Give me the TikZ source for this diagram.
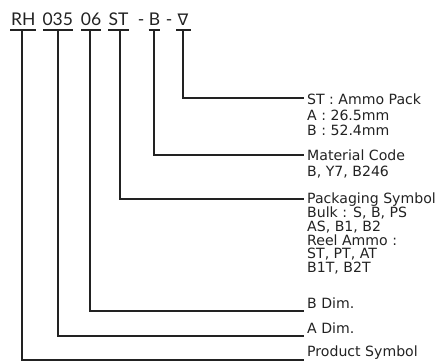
\documentclass[tikz,border=0pt]{standalone}
\usepackage{fontspec}
\setmainfont{DejaVu Sans}
\newfontfamily\headfont{Lato}
\newfontfamily\symfont{DejaVu Sans}
\definecolor{ink}{HTML}{222222}
\begin{document}
\begin{tikzpicture}[x=1pt,y=-1pt,
  head/.style={anchor=base,inner sep=0pt,text=ink,font=\headfont\fontsize{17.5}{20}\selectfont},
  lab/.style={anchor=base west,inner sep=0pt,text=ink,font=\fontsize{14.1}{15}\selectfont},
  conn/.style={draw=ink,line width=1.1pt},
  uline/.style={draw=ink,line width=1.1pt}]
\useasboundingbox (0,0) rectangle (437,363);
% header tokens
\node[head] (t1) at (23.2,26) {RH};
\node[head] (t2) at (57.8,26) {035};
\node[head] (t3) at (91,26) {06};
\node[head] (t4) at (118.5,26) {ST};
\node[head] (d1) at (141,26) {-};
\node[head] (t5) at (154.5,26) {B};
\node[head] (d2) at (169,26) {-};
\node[head,font=\symfont\fontsize{16}{20}\selectfont] (t6) at (183,26) {∇};
% underlines
\draw[uline] (10,30) -- (35.5,30);
\draw[uline] (43,30) -- (72.5,30);
\draw[uline] (81,30) -- (101,30);
\draw[uline] (108,30) -- (129,30);
\draw[uline] (148.5,30) -- (160,30);
\draw[uline] (176,30) -- (191,30);
\coordinate (u1) at (22,30);
\coordinate (u2) at (58,30);
\coordinate (u3) at (90,30);
\coordinate (u4) at (120,30);
\coordinate (u5) at (154,30);
\coordinate (u6) at (183,30);
% line ends
\coordinate (e6) at (304,98);
\coordinate (e5) at (304,155);
\coordinate (e4) at (304,199);
\coordinate (e3) at (304,311);
\coordinate (e2) at (304,336);
\coordinate (e1) at (304,360);
\draw[conn] (u6) |- (e6);
\draw[conn] (u5) |- (e5);
\draw[conn] (u4) |- (e4);
\draw[conn] (u3) |- (e3);
\draw[conn] (u2) |- (e2);
\draw[conn] (u1) |- (e1);
% labels
\node[lab] (l6a) at (307,104.3) {ST : Ammo Pack};
\node[lab] (l6b) at (307,120.3) {A : 26.5mm};
\node[lab] (l6c) at (307,135.8) {B : 52.4mm};
\node[lab] (l5a) at (307,160.2) {Material Code};
\node[lab] (l5b) at (307,176.5) {B, Y7, B246};
\node[lab] (l4a) at (307,204) {Packaging Symbol};
\node[lab] (l4b) at (307,218) {Bulk : S, B, PS};
\node[lab] (l4c) at (307,231.7) {AS, B1, B2};
\node[lab] (l4d) at (307,245.3) {Reel Ammo :};
\node[lab] (l4e) at (307,259) {ST, PT, AT};
\node[lab] (l4f) at (307,272.5) {B1T, B2T};
\node[lab] (l3) at (307,308.3) {B Dim.};
\node[lab] (l2) at (307,333.3) {A Dim.};
\node[lab] (l1) at (307,357) {Product Symbol};
\end{tikzpicture}
\end{document}
